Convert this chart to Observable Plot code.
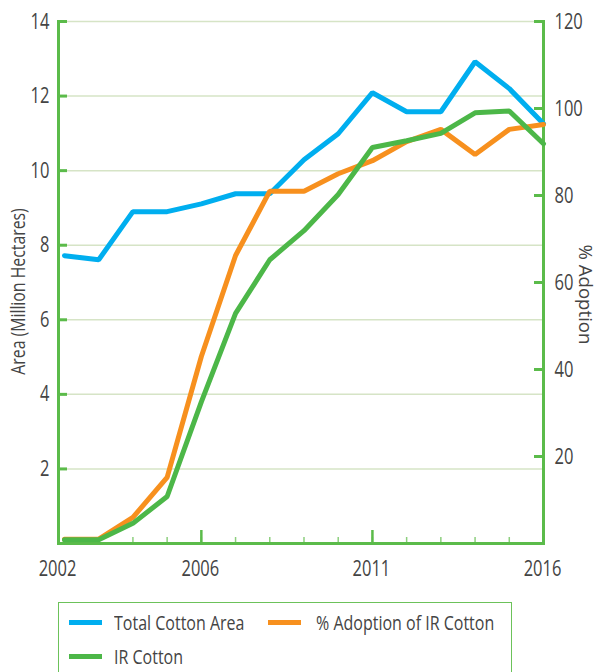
<!DOCTYPE html>
<html>
<head>
<meta charset="utf-8">
<script src="https://cdn.jsdelivr.net/npm/d3@7"></script>
<script src="https://cdn.jsdelivr.net/npm/@observablehq/plot@0.6"></script>
<style>
  html, body { margin: 0; padding: 0; background: #fff; }
  body { width: 599px; height: 672px; position: relative; overflow: hidden; font-family: "Open Sans", sans-serif; }
  #chart { position: absolute; left: 0; top: 0; }
  #legend { position: absolute; left: 58px; top: 602px; width: 454px; height: 90px; border: 1px solid #6cc25a; box-sizing: border-box; background: #fff; }
  .item { position: absolute; height: 27px; line-height: 27px; font-size: 20px; color: #444; white-space: nowrap; }
  .sw { position: absolute; top: 11px; width: 33px; height: 5px; }
  .tx { position: absolute; display: inline-block; transform: scaleX(0.8); transform-origin: left center; }
</style>
</head>
<body>
<div id="chart"></div>
<div id="legend"></div>
<script>
const years = [2002,2003,2004,2005,2006,2007,2008,2009,2010,2011,2012,2013,2014,2015,2016];
const totalArea = [7.72,7.61,8.9,8.9,9.11,9.38,9.38,10.29,10.99,12.09,11.58,11.58,12.92,12.2,11.26];
const adoptionPct = [1,1,6,15.2,43,66.2,81,81,85,88,92.4,95.2,89.4,95.2,96.3];
const irArea = [0.1,0.1,0.54,1.26,3.8,6.17,7.61,8.39,9.36,10.62,10.8,11.0,11.55,11.6,10.72];
const leftTicks = [2,4,6,8,10,12,14];
const rightTicks = [20,40,60,80,100,120];
const xLabelTicks = [2002,2006,2011,2016];
const xMajorTicks = [2006,2011];
const seriesNames = ["Total Cotton Area","% Adoption of IR Cotton","IR Cotton"];
const seriesColors = ["#00aeef","#f7901e","#4cb748"];
const leftTitle = "Area (Million Hectares)";
const rightTitle = "% Adoption";

const leftMax = 14, rightMax = 120;
const toLeft = v => v * leftMax / rightMax;

const rows = years.map((y,i) => ({year:y, total: totalArea[i], adopt: toLeft(adoptionPct[i]), ir: irArea[i]}));
const axisGreen = "#5bbb4a";
const gridGreen = "#d6e4c6";
const textCol = "#444";
const xLabelOpts = {anchor: "bottom", tickSize: 0, tickPadding: 17, tickFormat: d => String(d), fill: textCol, fontSize: 22, label: null};

const chart = Plot.plot({
  width: 599,
  height: 598,
  marginLeft: 58,
  marginRight: 56,
  marginTop: 21,
  marginBottom: 55,
  style: {fontFamily: "Open Sans, sans-serif", fontSize: "22px", color: textCol, background: "transparent"},
  x: {domain: [2001.825, 2016], axis: null},
  y: {domain: [0, leftMax], axis: null},
  marks: [
    Plot.gridY(leftTicks, {stroke: gridGreen, strokeOpacity: 1, strokeWidth: 1.5}),
    Plot.axisX(years.slice(1, -1), {anchor: "bottom", tickSize: -6, text: null, stroke: "#8dcf7e", strokeWidth: 1.5, label: null}),
    Plot.axisX(xMajorTicks, {anchor: "bottom", tickSize: -13, text: null, stroke: axisGreen, strokeWidth: 2.5, label: null}),
    Plot.axisX(xLabelTicks.slice(0, 1), {...xLabelOpts, dx: -7}),
    Plot.axisX(xLabelTicks.slice(1), {...xLabelOpts, dx: -1}),
    Plot.axisY(leftTicks, {anchor: "left", tickSize: -9, tickPadding: 18, stroke: axisGreen, strokeWidth: 3, fill: textCol, fontSize: 22, label: null}),
    Plot.axisY(rightTicks.map(toLeft), {anchor: "right", tickSize: -10, tickPadding: 21, stroke: axisGreen, strokeWidth: 3, fill: textCol, fontSize: 22, tickFormat: d => String(Math.round(d * rightMax / leftMax)), label: null}),
    Plot.frame({anchor: "left", stroke: axisGreen, strokeWidth: 3}),
    Plot.frame({anchor: "right", stroke: axisGreen, strokeWidth: 3}),
    Plot.frame({anchor: "bottom", stroke: axisGreen, strokeWidth: 3}),
    Plot.lineY(rows, {x: "year", y: "total", stroke: seriesColors[0], strokeWidth: 5, strokeLinejoin: "miter"}),
    Plot.lineY(rows, {x: "year", y: "adopt", stroke: seriesColors[1], strokeWidth: 5, strokeLinejoin: "miter"}),
    Plot.lineY(rows, {x: "year", y: "ir", stroke: seriesColors[2], strokeWidth: 5, strokeLinejoin: "miter"}),
    Plot.text([leftTitle], {frameAnchor: "left", textAnchor: "middle", dx: -40, dy: 9, rotate: -90, text: d => d, fill: textCol, fontSize: 20}),
    Plot.text([rightTitle], {frameAnchor: "right", textAnchor: "middle", dx: 42, dy: 12, rotate: 90, text: d => d, fill: textCol, fontSize: 19})
  ]
});
document.getElementById("chart").appendChild(chart);

// emulate the condensed typeface of the original by compressing glyphs horizontally
chart.querySelectorAll("text").forEach(t => {
  const c = t.textContent;
  const ratio = c === leftTitle ? 0.79 : c === rightTitle ? 0.98 : 0.75;
  const L = t.getComputedTextLength();
  t.setAttribute("textLength", (L * ratio).toFixed(1));
  t.setAttribute("lengthAdjust", "spacingAndGlyphs");
});

const legend = document.getElementById("legend");
const pos = [{l: 10, t: 6, g: 12}, {l: 209, t: 6, g: 15}, {l: 10, t: 40, g: 12}];
seriesNames.forEach((name, i) => {
  const it = document.createElement("div");
  it.className = "item";
  it.style.left = pos[i].l + "px";
  it.style.top = pos[i].t + "px";
  const sw = document.createElement("span");
  sw.className = "sw";
  sw.style.left = "0px";
  sw.style.background = seriesColors[i];
  it.appendChild(sw);
  const tx = document.createElement("span");
  tx.className = "tx";
  tx.style.left = (33 + pos[i].g) + "px";
  tx.textContent = name;
  it.appendChild(tx);
  legend.appendChild(it);
});
</script>
</body>
</html>
